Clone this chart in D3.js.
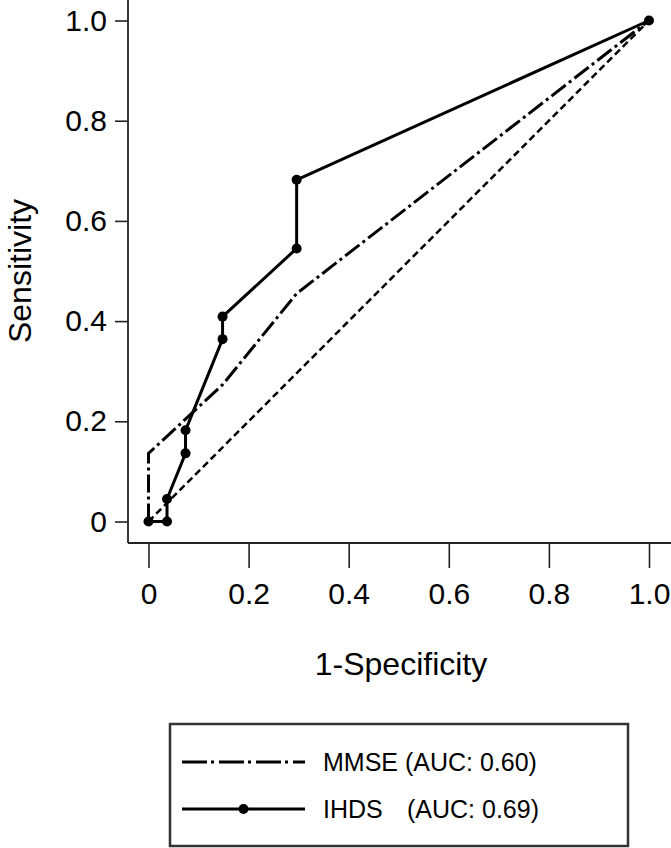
<!DOCTYPE html>
<html>
<head>
<meta charset="utf-8">
<script src="https://cdn.jsdelivr.net/npm/d3@7"></script>
<style>
  body { margin: 0; background: #fff; }
  svg { display: block; font-family: "Liberation Sans", Arial, Helvetica, sans-serif; }
</style>
</head>
<body>
<script>
// ROC curves
let refFpr = [0, 1]
let refTpr = [0, 1]

let mmseFpr = [0, 0, 0.148, 0.296, 1]
let mmseTpr = [0, 0.136, 0.273, 0.455, 1]

let ihdsFpr = [0, 0.037, 0.037, 0.074, 0.074, 0.148, 0.148, 0.296, 0.296, 1]
let ihdsTpr = [0, 0, 0.045, 0.136, 0.182, 0.364, 0.409, 0.545, 0.682, 1]

let tickValues = [0, 0.2, 0.4, 0.6, 0.8, 1.0]
let legendLabels = ["MMSE", "IHDS"]
let legendAuc = ["(AUC: 0.60)", "(AUC: 0.69)"]

let width = 671
let height = 848

let svg = d3.select('body')
    .append('svg')
    .attr('width', width)
    .attr('height', height)

let x = d3.scaleLinear().domain([0, 1]).range([148.5, 649])
let y = d3.scaleLinear().domain([0, 1]).range([521.5, 20.5])

let fmt = d => d === 0 ? "0" : d3.format(".1f")(d)

// axis frame (left + bottom, longer than the data range)
let axisLeftX = 128
let axisBottomY = 543

svg.append('line')
    .attr('x1', axisLeftX).attr('x2', axisLeftX)
    .attr('y1', 0).attr('y2', axisBottomY)
    .style('stroke', '#222').style('stroke-width', 1.8)

svg.append('line')
    .attr('x1', axisLeftX).attr('x2', width)
    .attr('y1', axisBottomY).attr('y2', axisBottomY)
    .style('stroke', '#222').style('stroke-width', 1.8)

let yAxis = svg.append('g')
    .attr('transform', `translate(${axisLeftX},0)`)
    .call(d3.axisLeft(y).tickValues(tickValues).tickFormat(fmt).tickSize(13).tickPadding(8))
yAxis.select('.domain').remove()

let xAxis = svg.append('g')
    .attr('transform', `translate(0,${axisBottomY})`)
    .call(d3.axisBottom(x).tickValues(tickValues).tickFormat(fmt).tickSize(25).tickPadding(15))
xAxis.select('.domain').remove()

svg.selectAll('.tick line').style('stroke', '#222').style('stroke-width', 1.6)
svg.selectAll('.tick text')
    .style('font-family', '"Liberation Sans", Arial, sans-serif')
    .style('font-size', '30px')
    .style('fill', '#000')

// axis titles
svg.append('text')
    .attr('x', 401)
    .attr('y', 675)
    .attr('text-anchor', 'middle')
    .style('font-size', '32px')
    .text('1-Specificity')

svg.append('text')
    .attr('transform', 'translate(31,271) rotate(-90)')
    .attr('text-anchor', 'middle')
    .style('font-size', '32px')
    .text('Sensitivity')

// curves
let line = d3.line()
    .x(d => x(d[0]))
    .y(d => y(d[1]))

svg.append('path')
    .datum(d3.zip(refFpr, refTpr))
    .attr('d', line)
    .style('fill', 'none')
    .style('stroke', '#000')
    .style('stroke-width', 2.5)
    .style('stroke-dasharray', '7,4')

svg.append('path')
    .datum(d3.zip(mmseFpr, mmseTpr))
    .attr('d', line)
    .style('fill', 'none')
    .style('stroke', '#000')
    .style('stroke-width', 3)
    .style('stroke-dasharray', '18,4,3,4')

let ihdsData = d3.zip(ihdsFpr, ihdsTpr)

svg.append('path')
    .datum(ihdsData)
    .attr('d', line)
    .style('fill', 'none')
    .style('stroke', '#000')
    .style('stroke-width', 3)
    .style('stroke-linejoin', 'round')

svg.selectAll('.ihds-dot')
    .data(ihdsData)
    .enter()
    .append('circle')
    .attr('class', 'ihds-dot')
    .attr('cx', d => x(d[0]))
    .attr('cy', d => y(d[1]))
    .attr('r', 5)
    .style('fill', '#000')

// legend
let legend = svg.append('g')

legend.append('rect')
    .attr('x', 170)
    .attr('y', 724)
    .attr('width', 458)
    .attr('height', 122)
    .style('fill', '#fff')
    .style('stroke', '#333')
    .style('stroke-width', 2.5)

let rowY = [762, 809]

legend.append('line')
    .attr('x1', 182).attr('x2', 305)
    .attr('y1', rowY[0]).attr('y2', rowY[0])
    .style('stroke', '#000')
    .style('stroke-width', 3)
    .style('stroke-dasharray', '25,4,3,5')

legend.append('line')
    .attr('x1', 182).attr('x2', 305)
    .attr('y1', rowY[1]).attr('y2', rowY[1])
    .style('stroke', '#000')
    .style('stroke-width', 3)

legend.append('circle')
    .attr('cx', 243.5)
    .attr('cy', rowY[1])
    .attr('r', 5)
    .style('fill', '#000')

let aucX = [null, 407]
legendLabels.forEach((lab, i) => {
    let t = legend.append('text')
        .attr('x', 323)
        .attr('y', rowY[i] + 9)
        .style('font-size', '25px')
    t.append('tspan').text(lab + ' ')
    let s = t.append('tspan').text(legendAuc[i])
    if (aucX[i] !== null) s.attr('x', aucX[i])
})
</script>
</body>
</html>
